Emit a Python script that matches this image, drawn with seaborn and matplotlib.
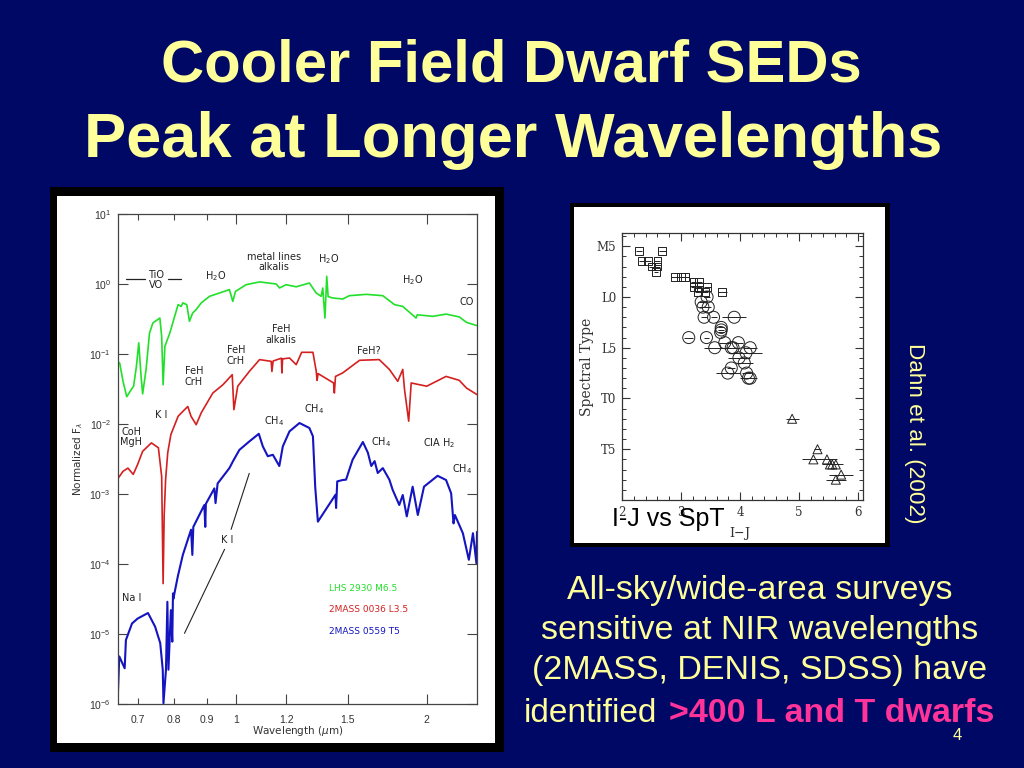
import numpy as np
import pandas as pd
import matplotlib
matplotlib.use("Agg")
import matplotlib.pyplot as plt
from matplotlib.patches import Rectangle
from matplotlib.ticker import FixedLocator
import seaborn as sns

# spectra, wavelength in micron and log10 of normalized flux
green_wl = [0.651, 0.656, 0.664, 0.673, 0.684, 0.690, 0.697, 0.703, 0.709, 0.713, 0.722, 0.731, 0.740, 0.759, 0.764, 0.768,
            0.773, 0.787, 0.801, 0.811, 0.820, 0.825, 0.837, 0.845, 0.855, 0.865, 0.882, 0.909, 0.942, 0.977, 0.989, 0.999,
            1.038, 1.09, 1.158, 1.172, 1.2, 1.245, 1.306, 1.339, 1.363, 1.371, 1.382, 1.391, 1.398, 1.422, 1.474, 1.51,
            1.606, 1.705, 1.779, 1.833, 1.924, 1.932, 2.045, 2.145, 2.25, 2.31, 2.40]
green_log = [-1.105, -1.13, -1.39, -1.61, -1.51, -1.46, -1.18, -0.84, -1.32, -1.57, -1.22, -0.70, -0.557, -0.486, -0.75, -1.44,
             -0.89, -0.70, -0.46, -0.295, -0.32, -0.27, -0.295, -0.533, -0.414, -0.37, -0.27, -0.176, -0.129, -0.08, -0.248, -0.105,
             -0.01, 0.03, 0.0, -0.057, -0.01, -0.04, 0.014, -0.129, -0.176, -0.057, -0.486, 0.11, -0.18, -0.2, -0.214, -0.167,
             -0.148, -0.167, -0.295, -0.32, -0.486, -0.44, -0.462, -0.43, -0.47, -0.548, -0.595]

red_wl = [0.651, 0.664, 0.676, 0.689, 0.700, 0.713, 0.736, 0.755, 0.764, 0.768, 0.771, 0.775, 0.781, 0.790, 0.811, 0.825,
          0.840, 0.850, 0.866, 0.882, 0.920, 0.954, 0.987, 0.993, 1.007, 1.05, 1.09, 1.137, 1.14, 1.145, 1.18, 1.182,
          1.185, 1.215, 1.245, 1.27, 1.323, 1.339, 1.343, 1.348, 1.426, 1.43, 1.436, 1.474, 1.567, 1.683, 1.746, 1.80,
          1.833, 1.845, 1.873, 1.89, 2.0, 2.145, 2.25, 2.31, 2.40]
red_log = [-2.786, -2.676, -2.63, -2.72, -2.58, -2.39, -2.27, -2.34, -2.75, -4.28, -3.3, -2.795, -2.41, -2.15, -1.89, -1.82,
           -1.75, -1.89, -2.01, -1.84, -1.557, -1.44, -1.295, -1.795, -1.46, -1.25, -1.08, -1.105, -1.25, -1.10, -1.06, -1.27,
           -1.07, -1.057, -1.152, -0.976, -0.976, -1.248, -1.376, -1.28, -1.414, -1.557, -1.32, -1.27, -1.09, -1.08, -1.22, -1.39,
           -1.22, -1.51, -1.96, -1.414, -1.46, -1.32, -1.376, -1.486, -1.58]

blue_wl = [0.651, 0.655, 0.668, 0.671, 0.686, 0.700, 0.727, 0.746, 0.760, 0.767, 0.769, 0.776, 0.780, 0.783, 0.790, 0.794,
           0.796, 0.797, 0.81, 0.825, 0.85, 0.854, 0.857, 0.892, 0.895, 0.897, 0.925, 0.929, 0.936, 0.977, 0.99, 1.013,
           1.05, 1.087, 1.103, 1.123, 1.144, 1.171, 1.186, 1.215, 1.26, 1.306, 1.323, 1.334, 1.347, 1.436, 1.439, 1.445,
           1.474, 1.492, 1.528, 1.586, 1.615, 1.635, 1.655, 1.674, 1.705, 1.746, 1.767, 1.81, 1.833, 1.86, 1.90, 1.936,
           1.98, 2.08, 2.145, 2.185, 2.204, 2.215, 2.28, 2.33, 2.365, 2.395, 2.40]
blue_log = [-5.99, -5.32, -5.49, -5.086, -4.85, -4.78, -4.70, -4.895, -5.13, -5.51, -5.99, -5.51, -4.54, -5.51, -4.66, -5.11,
            -4.42, -4.5, -4.18, -3.87, -3.51, -3.87, -3.47, -3.157, -3.47, -3.14, -2.92, -3.13, -2.85, -2.63, -2.53, -2.37,
            -2.25, -2.14, -2.32, -2.46, -2.44, -2.6, -2.32, -2.105, -1.986, -2.057, -2.176, -2.9, -3.395, -3.01, -3.2, -2.82,
            -2.8, -2.795, -2.51, -2.257, -2.41, -2.6, -2.53, -2.7, -2.63, -2.795, -2.94, -3.157, -3.014, -3.32, -2.895, -3.3,
            -2.895, -2.74, -2.8, -2.99, -3.42, -3.3, -3.56, -3.94, -3.56, -3.99, -3.54]

# spectral type plot: I-J colour, numeric type (M5=-5, L0=0, T0=10), colour error
sq_color = [2.29, 2.68, 2.33, 2.44, 2.60, 2.50, 2.60, 2.58, 2.90, 3.00, 3.07, 3.21, 3.31, 3.21, 3.31, 3.44, 3.28, 3.40, 3.70]
sq_type = [-4.5, -4.5, -3.5, -3.5, -3.5, -3, -3, -2.5, -2, -2, -2, -1.5, -1.5, -1, -1, -1, -0.5, -0.5, -0.5]
sq_err = [0.05, 0.06, 0.05, 0.05, 0.05, 0.04, 0.04, 0.03, 0.07, 0.07, 0.07, 0.05, 0.05, 0.05, 0.05, 0.06, 0.05, 0.06, 0.08]

circ_color = [3.44, 3.34, 3.37, 3.46, 3.39, 3.55, 3.90, 3.68, 3.68, 3.67, 3.13, 3.43, 3.74, 3.97, 3.57, 3.85, 3.88, 4.17, 4.10, 3.98, 4.07, 3.85, 3.79, 4.11, 4.14, 4.17]
circ_type = [0, 0.5, 1, 1, 2, 2, 2, 3, 3.25, 3.5, 4, 4, 4.5, 4.5, 5, 5, 5, 5, 5.5, 6, 6.5, 7, 7.5, 7.5, 8, 8]
circ_err = [0.05, 0.05, 0.06, 0.05, 0.05, 0.05, 0.20, 0.05, 0.05, 0.05, 0.08, 0.05, 0.10, 0.08, 0.19, 0.10, 0.10, 0.12, 0.27, 0.18, 0.14, 0.07, 0.20, 0.08, 0.14, 0.08]

tri_color = [4.88, 5.31, 5.24, 5.47, 5.52, 5.56, 5.62, 5.71, 5.62]
tri_type = [12, 15, 16, 16, 16.5, 16.5, 16.5, 17.5, 18]
tri_err = [0.11, 0.06, 0.19, 0.17, 0.14, 0.10, 0.12, 0.20, 0.17]

type_ticks = [-5, 0, 5, 10, 15]
type_labels = ["M5", "L0", "L5", "T0", "T5"]
wave_long = [1, 1.2, 1.5, 2]
wave_long_labels = ["1", "1.2", "1.5", "2"]
wave_short = [0.7, 0.8, 0.9]
wave_short_labels = ["0.7", "0.8", "0.9"]

NAVY = "#000866"
YELLOW = "#ffff99"
PINK = "#ff3399"
GREEN = "#22e02a"
RED = "#d42020"
BLUE = "#1414c0"
GREY = "#444444"

sns.set_theme(style="ticks")
plt.rcParams["font.family"] = ["Liberation Sans", "DejaVu Sans"]

fig = plt.figure(figsize=(10.24, 7.68), dpi=100, facecolor=NAVY)


def box(x0, y0, x1, y1, color, z):
    # pixel box, measured from the top left
    fig.add_artist(Rectangle((x0 / 1024, 1 - y1 / 768), (x1 - x0) / 1024, (y1 - y0) / 768,
                             transform=fig.transFigure, facecolor=color, edgecolor="none", zorder=z))


def axes_px(x0, y0, x1, y1):
    return fig.add_axes([x0 / 1024, 1 - y1 / 768, (x1 - x0) / 1024, (y1 - y0) / 768])


box(50, 187, 504, 752, "black", -2)
box(57, 196, 495, 743, "white", -1)
box(570, 203, 890, 547, "black", -2)
box(574, 207, 885, 543, "white", -1)

# left panel
ax = axes_px(118, 214, 477, 704)
ax.set_facecolor("white")
for wl, lg, col, lw in [(green_wl, green_log, GREEN, 1.2), (red_wl, red_log, RED, 1.2), (blue_wl, blue_log, BLUE, 1.5)]:
    df = pd.DataFrame({"wl": wl, "flux": 10 ** np.array(lg)})
    sns.lineplot(data=df, x="wl", y="flux", sort=False, estimator=None, color=col, lw=lw, ax=ax, legend=False)
ax.set_xscale("log")
ax.set_yscale("log")
ax.set_xlim(0.652, 2.40)
ax.set_ylim(1e-6, 1e1)
ax.xaxis.set_major_locator(FixedLocator(wave_long))
ax.set_xticklabels(wave_long_labels)
ax.xaxis.set_minor_locator(FixedLocator(wave_short))
ax.set_xticklabels(wave_short_labels, minor=True)
ax.yaxis.set_major_locator(FixedLocator([1e-6, 1e-5, 1e-4, 1e-3, 1e-2, 1e-1, 1, 10]))
ax.yaxis.set_minor_locator(FixedLocator([]))
ax.tick_params(axis="both", which="major", direction="in", top=True, right=True, length=7, width=0.8,
               color=GREY, labelsize=7.5, labelcolor="#333333", pad=5)
ax.tick_params(axis="x", which="minor", direction="in", top=True, length=4, width=0.8,
               color=GREY, labelsize=7.5, labelcolor="#333333", pad=8)
ax.tick_params(axis="x", which="major", pad=8)
for s in ax.spines.values():
    s.set_color(GREY)
    s.set_linewidth(0.9)
    s.set_visible(True)
ax.set_xlabel("Wavelength ($\\mu$m)", fontsize=7.5, color="#333333", labelpad=-1, family="DejaVu Sans")
ax.set_ylabel("Normalized F$_\\lambda$", fontsize=7.5, color="#333333", labelpad=3, family="DejaVu Sans")

notes = [
    ("TiO\nVO", 0.749, 0.06), ("H$_2$O", 0.929, 0.12), ("metal lines\nalkalis", 1.147, 0.31),
    ("H$_2$O", 1.398, 0.35), ("H$_2$O", 1.897, 0.05), ("CO", 2.31, -0.257),
    ("FeH\nalkalis", 1.179, -0.724), ("FeH\nCrH", 1.0, -1.02), ("FeH?", 1.62, -0.957),
    ("FeH\nCrH", 0.859, -1.32), ("K I", 0.764, -1.867), ("CH$_4$", 1.33, -1.78),
    ("CH$_4$", 1.147, -1.96), ("CoH\nMgH", 0.684, -2.19), ("CH$_4$", 1.695, -2.26),
    ("CIA H$_2$", 2.09, -2.27), ("CH$_4$", 2.27, -2.65), ("K I", 0.968, -3.657), ("Na I", 0.686, -4.48),
]
for txt, xv, lg in notes:
    ax.text(xv, 10 ** lg, txt, ha="center", va="center", fontsize=7, color="#222222",
            family="DejaVu Sans", linespacing=1.05)
ax.plot([0.672, 0.718], [10 ** 0.07] * 2, color="#222222", lw=0.9)
ax.plot([0.781, 0.82], [10 ** 0.07] * 2, color="#222222", lw=0.9)
ax.plot([1.05, 0.983], [10 ** -2.705, 10 ** -3.505], color="#222222", lw=0.8)
ax.plot([0.96, 0.83], [10 ** -3.79, 10 ** -4.99], color="#222222", lw=0.8)
for txt, col, lg in [("LHS 2930 M6.5", GREEN, -4.357), ("2MASS 0036 L3.5", RED, -4.657), ("2MASS 0559 T5", BLUE, -4.96)]:
    ax.text(1.40, 10 ** lg, txt, color=col, fontsize=6.5, ha="left", va="center", family="DejaVu Sans")

# right panel
ax2 = axes_px(622, 233, 863, 500)
ax2.set_facecolor("white")
for xs, ys, errs, mk, ms in [(sq_color, sq_type, sq_err, "s", 32), (circ_color, circ_type, circ_err, "o", 75), (tri_color, tri_type, tri_err, "^", 42)]:
    ax2.errorbar(xs, ys, xerr=errs, fmt="none", ecolor="#222222", elinewidth=0.7, capsize=0)
    sns.scatterplot(x=xs, y=ys, marker=mk, s=ms, facecolor="none", edgecolor="#222222", linewidth=0.7, ax=ax2, legend=False)
ax2.set_xlim(2.0, 6.08)
ax2.set_ylim(20, -6.3)
ax2.set_xticks([2, 3, 4, 5, 6])
ax2.set_xticks(np.arange(2, 6.01, 0.2), minor=True)
ax2.set_yticks(type_ticks)
ax2.set_yticklabels(type_labels)
ax2.set_yticks(np.arange(-6, 20, 1), minor=True)
ax2.tick_params(axis="both", which="major", direction="in", top=True, right=True, length=6, width=0.8,
                color="#333333", labelsize=8.5, labelcolor="#333333", pad=4)
ax2.tick_params(axis="both", which="minor", direction="in", top=True, right=True, length=3, width=0.7, color="#333333")
for lab in ax2.get_xticklabels() + ax2.get_yticklabels():
    lab.set_family("DejaVu Serif")
for s in ax2.spines.values():
    s.set_color("#333333")
    s.set_linewidth(0.9)
    s.set_visible(True)
ax2.set_xlabel("I$-$J", fontsize=9, color="#333333", labelpad=5, family="DejaVu Serif", x=0.49)
ax2.set_ylabel("Spectral Type", fontsize=10, color="#333333", labelpad=2, family="DejaVu Serif")

# slide text
fig.text(511 / 1024, 1 - 66 / 768, "Cooler Field Dwarf SEDs", color=YELLOW, fontsize=43, fontweight="bold", ha="center", va="center")
fig.text(513 / 1024, 1 - 141 / 768, "Peak at Longer Wavelengths", color=YELLOW, fontsize=45.5, fontweight="bold", ha="center", va="center")
fig.text(668 / 1024, 1 - 519 / 768, "I-J vs SpT", color="black", fontsize=18, ha="center", va="center")
fig.text(914 / 1024, 1 - 433 / 768, "Dahn et al. (2002)", color=YELLOW, fontsize=16.2, rotation=-90, ha="center", va="center")
for line, yp in [("All-sky/wide-area surveys", 590), ("sensitive at NIR wavelengths", 630), ("(2MASS, DENIS, SDSS) have", 671)]:
    fig.text(760 / 1024, 1 - yp / 768, line, color=YELLOW, fontsize=24.5, ha="center", va="center")
fig.text(524 / 1024, 1 - 713 / 768, "identified", color=YELLOW, fontsize=24, ha="left", va="center")
fig.text(669 / 1024, 1 - 713 / 768, ">400 L and T dwarfs", color=PINK, fontsize=24.5, fontweight="bold", ha="left", va="center")
fig.text(957 / 1024, 1 - 736 / 768, "4", color=YELLOW, fontsize=12, ha="center", va="center")

fig.savefig("out.png", dpi=100, facecolor=NAVY)
